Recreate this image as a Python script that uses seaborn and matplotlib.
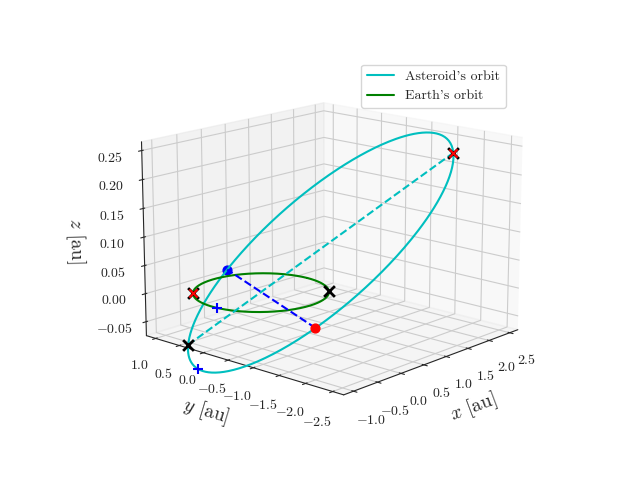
import numpy as np
import matplotlib
matplotlib.use("Agg")
import matplotlib.pyplot as plt
import seaborn as sns

sns.set_style("white")
plt.rcParams["font.family"] = "serif"
plt.rcParams["font.serif"] = ["cmr10"]
plt.rcParams["mathtext.fontset"] = "cm"
plt.rcParams["axes.formatter.use_mathtext"] = True

# orbital elements
a_ast = 1.95
e_ast = 0.44
inc_deg = 5.5
node_deg = 247.0
argp_deg = 245.0
earth_r = 1.0
# true anomaly of marked asteroid position (deg)
ast_plus_nu = [40.0]
# Earth positions marked (deg)
earth_x_deg = [135.0, 315.0]
earth_red_deg = [135.0]
earth_plus_deg = [185.0]

def orbit_xyz(a, e, inc, node, argp, nu):
    r = a * (1 - e**2) / (1 + e * np.cos(nu))
    i, O, w = np.radians([inc, node, argp])
    u = w + nu
    x = r * (np.cos(O) * np.cos(u) - np.sin(O) * np.sin(u) * np.cos(i))
    y = r * (np.sin(O) * np.cos(u) + np.cos(O) * np.sin(u) * np.cos(i))
    z = r * np.sin(u) * np.sin(i)
    return x, y, z

nu = np.linspace(0, 2 * np.pi, 400)
ax_, ay_, az_ = orbit_xyz(a_ast, e_ast, inc_deg, node_deg, argp_deg, nu)
ex, ey = earth_r * np.cos(nu), earth_r * np.sin(nu)

fig = plt.figure(figsize=(6.4, 4.8))
ax = fig.add_subplot(projection="3d")
ax.plot(ax_, ay_, az_, color="c", label="Asteroid's orbit")
ax.plot(ex, ey, 0 * ex, color="g", label="Earth's orbit")

kw = dict(depthshade=False)
# apsides
px, py, pz = orbit_xyz(a_ast, e_ast, inc_deg, node_deg, argp_deg, np.array([0, np.pi]))
ax.plot(px, py, pz, "c--")
ax.scatter(px, py, pz, color="k", marker="x", s=60, linewidths=2, **kw)
ax.scatter(px[1], py[1], pz[1], color="r", marker="x", s=35, **kw)
# nodes
nu_n = np.radians([-argp_deg, 180 - argp_deg])
nx, ny, nz = orbit_xyz(a_ast, e_ast, inc_deg, node_deg, argp_deg, nu_n)
ax.plot(nx, ny, [0, 0], "b--")
ax.scatter(nx[1], ny[1], 0, color="b", s=40, **kw)
ax.scatter(nx[0], ny[0], 0, color="r", s=40, **kw)

# marked positions
bx, by, bz = orbit_xyz(a_ast, e_ast, inc_deg, node_deg, argp_deg, np.radians(ast_plus_nu))
ax.scatter(bx, by, bz, color="b", marker="+", s=60, **kw)
t = np.radians(earth_plus_deg)
ax.scatter(np.cos(t), np.sin(t), 0 * t, color="b", marker="+", s=60, **kw)
t = np.radians(earth_x_deg)
ax.scatter(np.cos(t), np.sin(t), 0 * t, color="k", marker="x", s=60, linewidths=2, **kw)
t = np.radians(earth_red_deg)
ax.scatter(np.cos(t), np.sin(t), 0 * t, color="r", marker="x", s=35, **kw)

ax.set_xlim(-1.2, 2.7)
ax.set_ylim(-2.7, 1.2)
ax.set_zlim(-0.075, 0.265)
ax.set_xlabel("$x$ [au]", fontsize=14)
ax.set_ylabel("$y$ [au]", fontsize=14)
ax.set_zlabel("$z$ [au]", fontsize=14)
ax.view_init(elev=15, azim=-138)
ax.set_box_aspect(None, zoom=1.12)
ax.legend(loc="upper right")
fig.savefig("out.png", dpi=100)
